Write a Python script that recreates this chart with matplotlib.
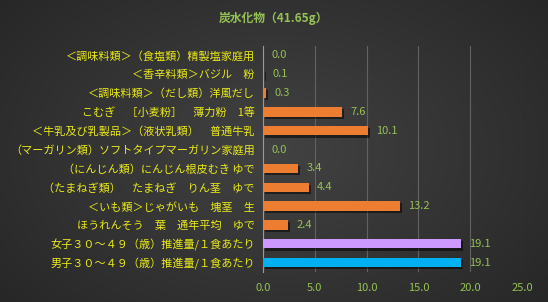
import matplotlib.pyplot as plt
import matplotlib.patheffects as pe
import numpy as np

plt.rcParams['font.family'] = ['Noto Sans CJK JP', 'DejaVu Sans']

# ---- data ----
labels = ['＜調味料類＞（食塩類）精製塩家庭用',
          '＜香辛料類＞バジル　粉',
          '＜調味料類＞（だし類）洋風だし',
          'こむぎ　［小麦粉］　薄力粉　1等',
          '＜牛乳及び乳製品＞（液状乳類）　普通牛乳',
          '（マーガリン類）ソフトタイプマーガリン家庭用',
          '（にんじん類）にんじん根皮むき ゆで',
          '（たまねぎ類）　たまねぎ　りん茎　ゆで',
          '＜いも類＞じゃがいも　塊茎　生',
          'ほうれんそう　葉　通年平均　ゆで',
          '女子３０～４９（歳）推進量/１食あたり',
          '男子３０～４９（歳）推進量/１食あたり']
values = [0.0, 0.1, 0.3, 7.6, 10.1, 0.0, 3.4, 4.4, 13.2, 2.4, 19.1, 19.1]
bar_colors = ['#ED7D31'] * 10 + ['#CC99FF', '#00B0F0']
title = '炭水化物（41.65g）'
xticks = [0, 5, 10, 15, 20, 25]

GREEN = '#95C155'
YELLOW = '#EAEA1A'

fig = plt.figure(figsize=(5.48, 3.02), dpi=100)

# background: radial gradient
bg = fig.add_axes([0, 0, 1, 1], zorder=-10)
yy, xx = np.mgrid[0:302, 0:548]
r = np.sqrt(((xx - 274) / 300.0) ** 2 + ((yy - 150) / 200.0) ** 2)
shade = 0.26 - 0.09 * np.clip(r, 0, 1.2)
bg.imshow(np.dstack([shade, shade, shade]), aspect='auto', extent=[0, 1, 0, 1])
bg.axis('off')

ax = fig.add_axes([0.480, 0.0993, 0.4726, 0.7484])
ax.patch.set_alpha(0)

ypos = np.arange(len(values))
bars = ax.barh(ypos, values, height=0.5, color=bar_colors, zorder=3)
for b in bars:
    b.set_path_effects([pe.SimplePatchShadow(offset=(1.5, -1.5), shadow_rgbFace='black', alpha=0.5),
                        pe.Normal()])

# value labels
for y, v in zip(ypos, values):
    ax.text(v + 0.8, y, '%.1f' % v, va='center', ha='left', color=GREEN, fontsize=8)

ax.set_xlim(0, 25)
ax.set_ylim(11.5, -0.5)
ax.set_xticks(xticks)
ax.set_xticklabels(['%.1f' % t for t in xticks], color=GREEN, fontsize=8)
ax.set_yticks(ypos)
ax.set_yticklabels(labels, color=YELLOW, fontsize=8)
ax.tick_params(axis='both', length=0, pad=6)
ax.tick_params(axis='x', pad=8)

ax.grid(axis='x', color='#626262', linewidth=0.8, zorder=0)
for s in ['top', 'right', 'bottom']:
    ax.spines[s].set_visible(False)
ax.spines['left'].set_color('#9a9a9a')
ax.spines['left'].set_linewidth(0.8)

fig.text(0.5, 0.94, title, ha='center', va='center', color=GREEN, fontsize=8.5, fontweight='bold')

fig.savefig('out.png', dpi=100)
